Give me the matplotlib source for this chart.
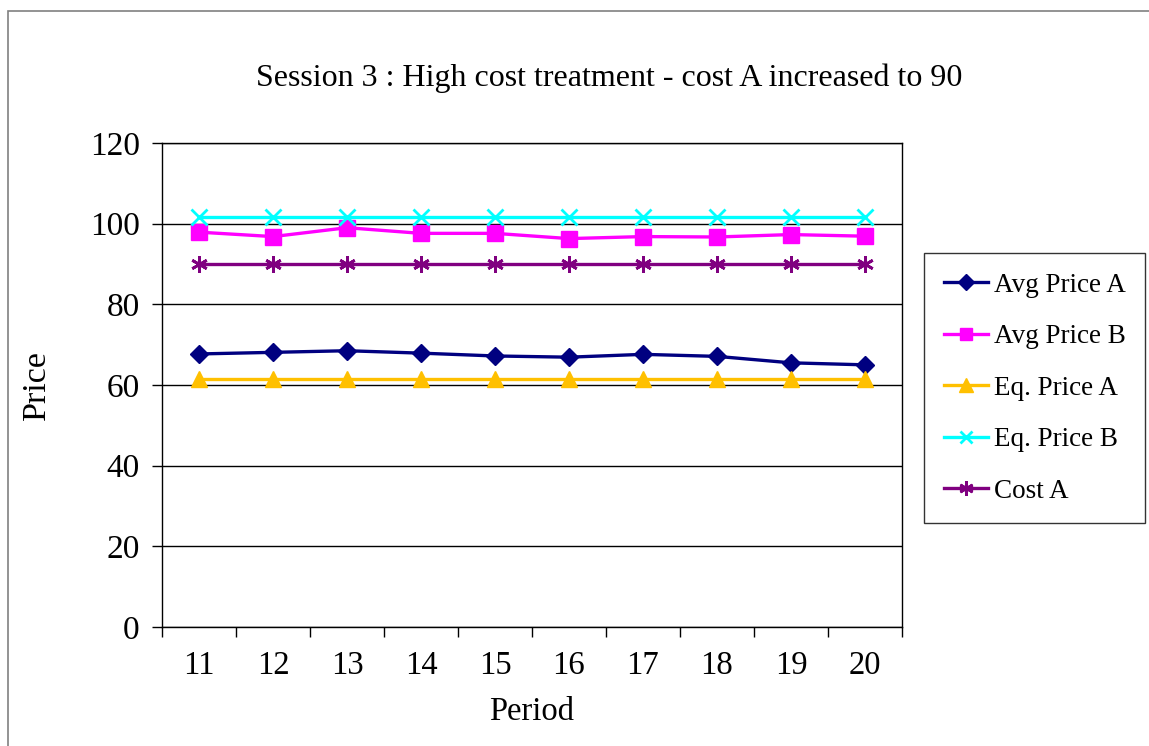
import matplotlib
matplotlib.use("Agg")
import matplotlib.pyplot as plt
from matplotlib.patches import Rectangle
from matplotlib.ticker import FixedLocator

periods = [11, 12, 13, 14, 15, 16, 17, 18, 19, 20]
avg_price_a = [67.7, 68.1, 68.5, 67.9, 67.2, 66.9, 67.6, 67.1, 65.5, 65.0]
avg_price_b = [97.9, 96.8, 99.0, 97.6, 97.6, 96.3, 96.8, 96.7, 97.3, 96.9]
eq_price_a = [61.6] * 10
eq_price_b = [101.6] * 10
cost_a = [90] * 10

plt.rcParams["font.family"] = ["Liberation Serif", "DejaVu Serif"]

fig = plt.figure(figsize=(11.49, 7.46), dpi=100)
# outer chart frame (cut off on the right and bottom like the reference)
fig.patches.append(Rectangle((8 / 1149, -0.05), 1.2, 1 - 11 / 746 + 0.05,
                             transform=fig.transFigure, fill=False,
                             edgecolor="#808080", linewidth=1.2))

ax = fig.add_axes([0.141, 0.1595, 0.644, 0.6488])
x = list(range(len(periods)))

ax.plot(x, avg_price_a, color="#000080", marker="D", markersize=9, linewidth=2.4, label="Avg Price A")
ax.plot(x, avg_price_b, color="#FF00FF", marker="s", markersize=11, linewidth=2.4, label="Avg Price B")
ax.plot(x, eq_price_a, color="#FFC000", marker="^", markersize=12, linewidth=2.4, label="Eq. Price A")
ax.plot(x, eq_price_b, color="#00FFFF", marker="x", markersize=11, markeredgewidth=2, linewidth=2.4, label="Eq. Price B")
ax.plot(x, cost_a, color="#800080", marker=(6, 2, 0), markersize=12, markeredgewidth=2, linewidth=2.4, label="Cost A")

ax.set_xlim(-0.5, len(periods) - 0.5)
ax.set_ylim(0, 120)
ax.set_yticks(range(0, 121, 20))
ax.yaxis.grid(True, color="black", linewidth=1)
ax.set_axisbelow(True)

ax.set_xticks(x)
ax.set_xticklabels([str(p) for p in periods])
ax.xaxis.set_minor_locator(FixedLocator([i - 0.5 for i in range(len(periods) + 1)]))
ax.tick_params(axis="x", which="major", length=0, pad=17, labelsize=23.5)
ax.tick_params(axis="x", which="minor", length=7, direction="out", width=1)
ax.tick_params(axis="y", length=7, direction="out", width=1, pad=9, labelsize=24)

for s in ax.spines.values():
    s.set_color("black")
    s.set_linewidth(1)

ax.set_xlabel("Period", fontsize=23.5, labelpad=11)
ax.set_ylabel("Price", fontsize=24.5, labelpad=27)
fig.text(0.530, 0.895, "Session 3 : High cost treatment - cost A increased to 90",
         ha="center", va="center", fontsize=23)

leg = ax.legend(loc="upper left", bbox_to_anchor=(924 / 1149, 1 - 253 / 746),
                bbox_transform=fig.transFigure, fontsize=19.5, frameon=True,
                fancybox=False, edgecolor="black", handlelength=1.65,
                labelspacing=0.98, borderpad=0.72, handletextpad=0.2,
                borderaxespad=0, markerscale=0.85)
leg.get_frame().set_linewidth(1)

fig.savefig("out.png", dpi=100)
